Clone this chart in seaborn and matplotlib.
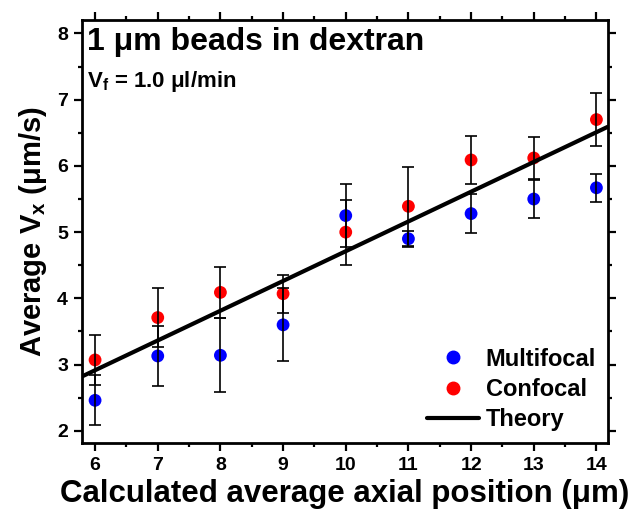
import numpy as np
import pandas as pd
import matplotlib
matplotlib.use("Agg")
import matplotlib.pyplot as plt
from matplotlib.lines import Line2D
from matplotlib.ticker import MultipleLocator
import seaborn as sns

# data
positions = [6, 7, 8, 9, 10, 11, 12, 13, 14]
multifocal = [2.46, 3.13, 3.14, 3.60, 5.25, 4.90, 5.28, 5.50, 5.67]
multifocal_err = [0.38, 0.46, 0.56, 0.55, 0.47, 0.12, 0.29, 0.28, 0.21]
confocal = [3.07, 3.71, 4.09, 4.07, 5.00, 5.39, 6.09, 6.12, 6.70]
confocal_err = [0.38, 0.44, 0.39, 0.29, 0.49, 0.60, 0.36, 0.32, 0.40]
theory_x = [5.79, 14.18]
theory_y = [2.82, 6.59]

sns.set_style("ticks")
plt.rcParams['font.family'] = ['Liberation Sans', 'DejaVu Sans']
plt.rcParams['font.weight'] = 'bold'
plt.rcParams['text.color'] = 'black'
plt.rcParams['axes.labelcolor'] = 'black'
plt.rcParams['xtick.color'] = 'black'
plt.rcParams['ytick.color'] = 'black'
plt.rcParams['mathtext.fontset'] = 'custom'
plt.rcParams['mathtext.rm'] = 'Liberation Sans:bold'
plt.rcParams['mathtext.it'] = 'Liberation Sans:bold'
plt.rcParams['mathtext.bf'] = 'Liberation Sans:bold'

df = pd.DataFrame({
    "x": positions * 2,
    "v": multifocal + confocal,
    "err": multifocal_err + confocal_err,
    "method": ["Multifocal"] * len(positions) + ["Confocal"] * len(positions),
})
theory = pd.DataFrame({"x": theory_x, "v": theory_y})

colors = {"Multifocal": "#0000FF", "Confocal": "#FF0000"}

fig = plt.figure(figsize=(6.35, 5.19), dpi=100)
ax = fig.add_axes([0.129, 0.147, 0.828, 0.814])

sns.scatterplot(data=df, x="x", y="v", hue="method", palette=colors,
                s=85, edgecolor="none", legend=False, ax=ax, zorder=2)
for m in ["Multifocal", "Confocal"]:
    d = df[df["method"] == m]
    ax.errorbar(d["x"], d["v"], yerr=d["err"], fmt="none", ecolor="black",
                elinewidth=1.2, capsize=4, capthick=1.2, zorder=3)
sns.lineplot(data=theory, x="x", y="v", color="black", lw=3, ax=ax, zorder=4)

ax.set_xlim(5.79, 14.18)
ax.set_ylim(1.82, 8.2)
ax.xaxis.set_major_locator(MultipleLocator(1))
ax.xaxis.set_minor_locator(MultipleLocator(0.5))
ax.yaxis.set_major_locator(MultipleLocator(1))
ax.yaxis.set_minor_locator(MultipleLocator(0.5))
ax.tick_params(which="both", direction="out", top=True, right=True,
               labeltop=False, labelright=False, width=1.6, colors="black")
ax.tick_params(which="major", length=6, labelsize=14, pad=4)
ax.tick_params(which="minor", length=3)
for lab in ax.get_xticklabels() + ax.get_yticklabels():
    lab.set_fontweight("bold")
for sp in ax.spines.values():
    sp.set_linewidth(2)
    sp.set_color("black")

ax.set_xlabel("Calculated average axial position (μm)", fontsize=22.5,
              fontweight="bold", labelpad=4)
ax.set_ylabel("Average V$_\\mathregular{x}$ (μm/s)", fontsize=21,
              fontweight="bold", labelpad=6)

ax.text(0.01, 0.985, "1 μm beads in dextran", transform=ax.transAxes,
        fontsize=23, fontweight="bold", va="top", ha="left")
ax.text(0.01, 0.885, "V$_\\mathregular{f}$ = 1.0 μl/min", transform=ax.transAxes,
        fontsize=16, fontweight="bold", va="top", ha="left")

handles = [
    Line2D([], [], marker="o", ls="none", color=colors["Multifocal"], markersize=9),
    Line2D([], [], marker="o", ls="none", color=colors["Confocal"], markersize=9),
    Line2D([], [], color="black", lw=3),
]
ax.legend(handles, ["Multifocal", "Confocal", "Theory"], loc="lower right",
          frameon=False, prop={"size": 17, "weight": "bold"},
          handlelength=2.2, handletextpad=0.3, labelspacing=0.3,
          borderaxespad=0.1, bbox_to_anchor=(1.0, 0.0))

fig.savefig("out.png", dpi=100)
